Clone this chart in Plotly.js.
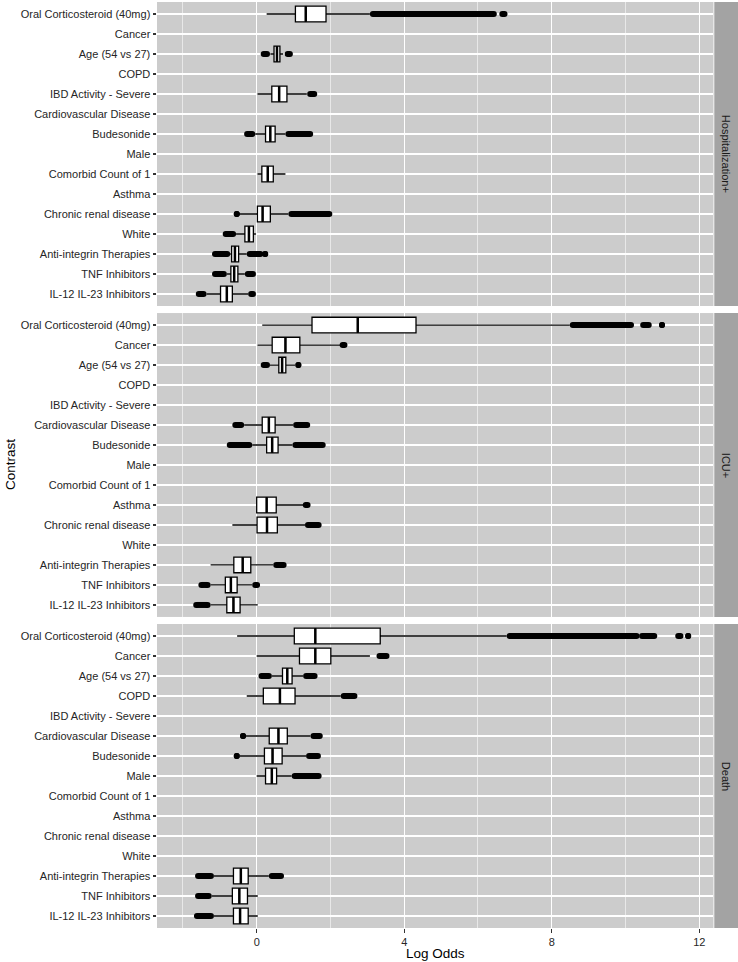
<!DOCTYPE html>
<html>
<head>
<meta charset="utf-8">
<script src="https://cdn.plot.ly/plotly-3.0.1.min.js"></script>
<style>html,body{margin:0;padding:0;background:#fff;}#chart{width:738px;height:962px;}</style>
</head>
<body>
<div id="chart"></div>
<script>
const categories = ["Oral Corticosteroid (40mg)", "Cancer", "Age (54 vs 27)", "COPD", "IBD Activity - Severe",
  "Cardiovascular Disease", "Budesonide", "Male", "Comorbid Count of 1", "Asthma", "Chronic renal disease",
  "White", "Anti-integrin Therapies", "TNF Inhibitors", "IL-12 IL-23 Inhibitors"];
const outcomes = ["Hospitalization+", "ICU+", "Death"];
const xTicks = [0, 4, 8, 12];

// Hospitalization+
const hospLo  = [0.27, null, 0.37, null, 0.02, null, -0.04, null, 0.02, null, -0.48, -0.56, -0.72, -0.81, -1.36];
const hospQ1  = [1.05, null, 0.47, null, 0.41, null, 0.24, null, 0.14, null, 0.02, -0.32, -0.68, -0.70, -0.98];
const hospMed = [1.33, null, 0.55, null, 0.61, null, 0.37, null, 0.30, null, 0.16, -0.21, -0.59, -0.61, -0.81];
const hospQ3  = [1.88, null, 0.63, null, 0.82, null, 0.50, null, 0.45, null, 0.37, -0.09, -0.49, -0.51, -0.66];
const hospHi  = [3.07, null, 0.72, null, 1.36, null, 0.78, null, 0.78, null, 0.86, -0.02, -0.27, -0.32, -0.23];
const hospOut = [[[3.15,6.43],[6.66,6.72]], [], [[0.19,0.28],[0.84,0.90]], [], [[1.45,1.56]], [],
  [[-0.26,-0.12],[0.86,1.45]], [], [], [], [[-0.54,-0.54],[0.94,1.97]], [[-0.84,-0.64]],
  [[-1.13,-0.80],[-0.19,0.10],[0.23,0.23]], [[-1.13,-0.89],[-0.24,-0.10]], [[-1.57,-1.44],[-0.15,-0.10]]];

// ICU+
const icuLo  = [0.15, 0.02, 0.36, null, null, -0.34, -0.12, null, null, 0.00, -0.66, null, -1.25, -1.25, -1.25];
const icuQ1  = [1.50, 0.42, 0.60, null, null, 0.15, 0.27, null, null, 0.00, 0.01, null, -0.62, -0.85, -0.81];
const icuMed = [2.74, 0.78, 0.69, null, null, 0.33, 0.42, null, null, 0.27, 0.28, null, -0.38, -0.70, -0.63];
const icuQ3  = [4.32, 1.17, 0.79, null, null, 0.50, 0.58, null, null, 0.53, 0.56, null, -0.16, -0.53, -0.45];
const icuHi  = [8.49, 2.26, 1.04, null, null, 0.99, 0.97, null, null, 1.26, 1.31, null, 0.45, -0.12, 0.03];
const icuOut = [[[8.57,10.15],[10.48,10.63],[10.99,10.99]], [[2.33,2.38]], [[0.19,0.28],[1.13,1.13]], [], [],
  [[-0.58,-0.42],[1.07,1.37]], [[-0.73,-0.20],[1.05,1.79]], [], [], [[1.33,1.38]], [[1.39,1.68]], [],
  [[0.53,0.73]], [[-1.50,-1.33],[-0.04,0.01]], [[-1.64,-1.33]]];

// Death
const deathLo  = [-0.53, 0.00, 0.41, -0.27, null, -0.30, -0.46, 0.00, null, null, null, null, -1.16, -1.22, -1.16];
const deathQ1  = [1.02, 1.16, 0.70, 0.18, null, 0.34, 0.21, 0.24, null, null, null, null, -0.63, -0.66, -0.63];
const deathMed = [1.59, 1.59, 0.83, 0.63, null, 0.59, 0.43, 0.41, null, null, null, null, -0.43, -0.47, -0.45];
const deathQ3  = [3.35, 2.01, 0.96, 1.04, null, 0.83, 0.69, 0.54, null, null, null, null, -0.23, -0.25, -0.23];
const deathHi  = [6.78, 3.07, 1.26, 2.28, null, 1.46, 1.34, 0.95, null, null, null, null, 0.33, 0.03, 0.03];
const deathOut = [[[6.86,10.30],[10.45,10.78],[11.43,11.49],[11.70,11.70]], [[3.33,3.52]], [[0.13,0.33],[1.34,1.57]],
  [[2.36,2.65]], [], [[-0.37,-0.37],[1.54,1.71]], [[-0.54,-0.54],[1.42,1.66]], [[1.03,1.68]], [], [], [], [],
  [[-1.59,-1.24],[0.41,0.66]], [[-1.59,-1.30]], [[-1.62,-1.24]]];

const panels = [
  {name: outcomes[0], lo: hospLo, q1: hospQ1, med: hospMed, q3: hospQ3, hi: hospHi, out: hospOut, xa: 'x3', ya: 'y3', dom: [0.6717, 1.0]},
  {name: outcomes[1], lo: icuLo, q1: icuQ1, med: icuMed, q3: icuQ3, hi: icuHi, out: icuOut, xa: 'x2', ya: 'y2', dom: [0.3359, 0.6641]},
  {name: outcomes[2], lo: deathLo, q1: deathQ1, med: deathMed, q3: deathQ3, hi: deathHi, out: deathOut, xa: 'x', ya: 'y', dom: [0.0, 0.3283]}
];

const BOXW = 0.78;
const traces = [];
panels.forEach(p => {
  const pos = [], q1 = [], med = [], q3 = [], lo = [], hi = [];
  const mx = [], my = [], ox = [], oy = [];
  categories.forEach((c, i) => {
    if (p.med[i] !== null) {
      pos.push(i); q1.push(p.q1[i]); med.push(p.med[i]); q3.push(p.q3[i]);
      lo.push(p.lo[i]); hi.push(p.hi[i]);
      mx.push(p.med[i], p.med[i], null); my.push(i - BOXW / 2, i + BOXW / 2, null);
    }
    p.out[i].forEach(run => { ox.push(run[0], run[1], null); oy.push(i, i, null); });
  });
  traces.push({
    type: 'box', orientation: 'h', y: pos, q1: q1, median: med, q3: q3,
    lowerfence: lo, upperfence: hi, width: BOXW, boxpoints: false,
    fillcolor: 'white', line: {color: '#000', width: 1.3}, whiskerwidth: 0,
    xaxis: p.xa, yaxis: p.ya, hoverinfo: 'skip'
  });
  traces.push({
    type: 'scatter', mode: 'lines', x: mx, y: my, line: {color: '#000', width: 2.5},
    xaxis: p.xa, yaxis: p.ya, hoverinfo: 'skip'
  });
  traces.push({
    type: 'scatter', mode: 'lines+markers', x: ox, y: oy,
    line: {color: '#000', width: 6}, marker: {color: '#000', size: 6},
    xaxis: p.xa, yaxis: p.ya, hoverinfo: 'skip'
  });
});

const XDOM = [0, 0.9578];
const baseX = {
  domain: XDOM, range: [-2.703, 12.386], tickvals: xTicks, ticktext: xTicks.map(String),
  showgrid: true, gridcolor: '#FFFFFF', gridwidth: 1.1, zeroline: false, showline: false,
  minor: {tickvals: [-2, 2, 6, 10], showgrid: true, gridcolor: '#FFFFFF', gridwidth: 0.55, ticks: ''},
  fixedrange: true
};
const baseY = {
  range: [14.6, -0.6], tickvals: categories.map((c, i) => i), ticktext: categories,
  ticks: 'outside', ticklen: 3.5, tickwidth: 1.1, tickcolor: '#333333',
  tickfont: {size: 11, color: '#262626'}, showgrid: true, gridcolor: '#FFFFFF', gridwidth: 1.1,
  zeroline: false, showline: false, automargin: false, fixedrange: true
};

const layout = {
  width: 738, height: 962,
  margin: {l: 157, r: 0, t: 2, b: 34},
  paper_bgcolor: '#FFFFFF', plot_bgcolor: '#CCCCCC',
  font: {family: 'Liberation Sans, Arial, sans-serif', size: 11, color: '#000'},
  showlegend: false,
  xaxis: Object.assign({}, baseX, {anchor: 'y', ticks: 'outside', ticklen: 3.5, tickwidth: 1.1, tickcolor: '#333333',
    tickfont: {size: 11, color: '#262626'}, showticklabels: true}),
  xaxis2: Object.assign({}, baseX, {anchor: 'y2', matches: 'x', ticks: '', showticklabels: false}),
  xaxis3: Object.assign({}, baseX, {anchor: 'y3', matches: 'x', ticks: '', showticklabels: false}),
  yaxis: Object.assign({}, baseY, {domain: panels[2].dom, anchor: 'x'}),
  yaxis2: Object.assign({}, baseY, {domain: panels[1].dom, anchor: 'x2'}),
  yaxis3: Object.assign({}, baseY, {domain: panels[0].dom, anchor: 'x3'}),
  shapes: panels.map(p => ({
    type: 'rect', xref: 'paper', yref: 'paper', x0: 0.9592, x1: 1.0, y0: p.dom[0], y1: p.dom[1],
    fillcolor: '#A3A3A3', line: {width: 0}, layer: 'below'
  })),
  annotations: panels.map(p => ({
    text: p.name, xref: 'paper', yref: 'paper', x: 0.9796, y: (p.dom[0] + p.dom[1]) / 2,
    xanchor: 'center', yanchor: 'middle', textangle: 90, showarrow: false,
    font: {size: 11, color: '#1A1A1A'}
  })).concat([
    {text: 'Log Odds', xref: 'paper', yref: 'paper', x: XDOM[1] / 2, y: -0.027, xanchor: 'center', yanchor: 'middle',
     showarrow: false, font: {size: 13.5, color: '#000'}},
    {text: 'Contrast', xref: 'paper', yref: 'paper', x: -0.253, y: 0.5, xanchor: 'center', yanchor: 'middle',
     textangle: -90, showarrow: false, font: {size: 13.5, color: '#000'}}
  ])
};

Plotly.newPlot('chart', traces, layout, {staticPlot: true, displayModeBar: false});
</script>
</body>
</html>
